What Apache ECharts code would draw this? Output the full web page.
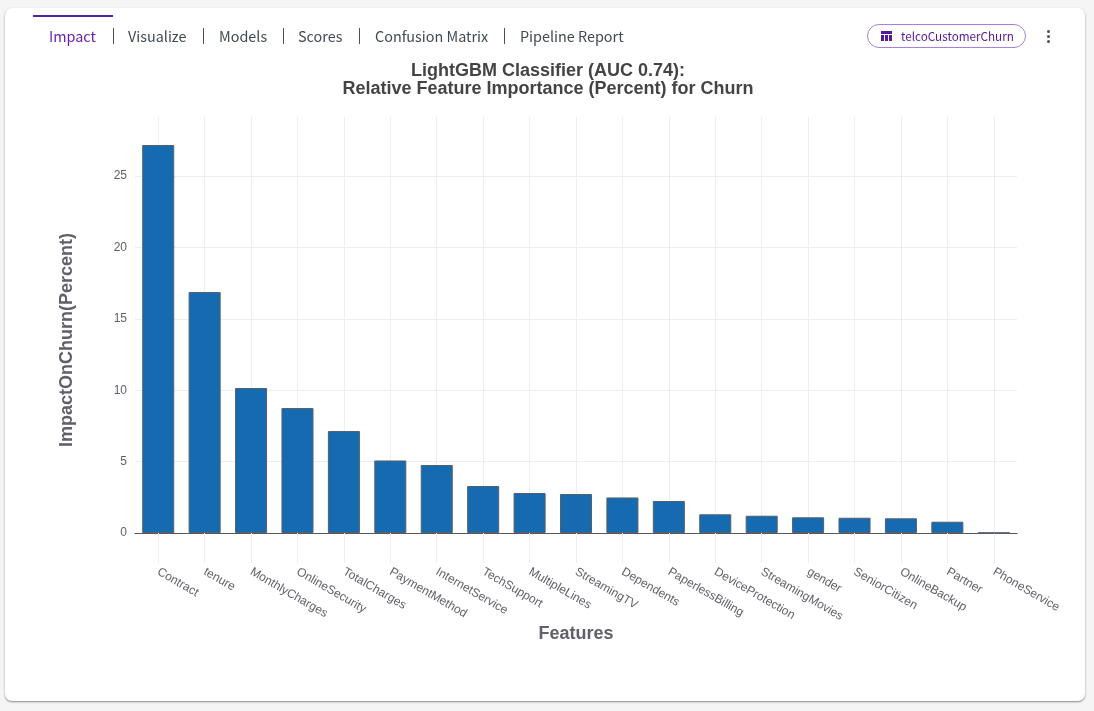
<!DOCTYPE html>
<html>
<head>
<meta charset="utf-8">
<title>Impact</title>
<script src="https://cdn.jsdelivr.net/npm/echarts@6/dist/echarts.min.js"></script>
<style>
    html, body { margin: 0; padding: 0; width: 1094px; height: 711px; overflow: hidden; background: #f5f5f5; }
    .card {
        position: absolute; left: 5px; top: 8px; width: 1080px; height: 693px;
        background: #fff; border-radius: 7px; box-shadow: 0 1px 2px rgba(0, 0, 0, 0.45);
    }
    #chart { position: absolute; left: 0; top: 0; width: 1094px; height: 711px; }
    .tab-mark { position: absolute; left: 33px; top: 15px; width: 80px; height: 2px; background: #5b1ea6; }
    .tab, .sep, .chip, .dots { position: absolute; font-family: "Noto Sans CJK SC", sans-serif; }
    .tab { top: 26px; font-size: 14.4px; line-height: 20px; color: #414a54; white-space: nowrap; }
    .tab.active { color: #6a1fb0; }
    .sep { top: 28px; width: 1px; height: 16px; background: #4a4f57; }
    .chip {
        left: 867px; top: 24px; width: 157px; height: 22px; border: 1px solid #ab7fd6; border-radius: 12px;
        color: #55189c; font-size: 11.7px; line-height: 21px; white-space: nowrap;
    }
    .chip svg { position: absolute; left: 13px; top: 6px; }
    .chip span { position: absolute; left: 33px; top: 0; }
    .dots { left: 1047px; top: 30px; width: 4px; }
    .dots i { display: block; width: 3.4px; height: 3.4px; margin-bottom: 1.6px; border-radius: 50%; background: #4a4f57; }
</style>
</head>
<body>
<div class="card"></div>
<div id="chart"></div>
<div class="tab-mark"></div>
<div id="tabs"></div>
<div class="chip">
    <svg width="11" height="10" viewBox="0 0 11 10"><path fill="#55189c" d="M0 0h11v3H0zM0 4h3v6H0zM4 4h3v6H4zM8 4h3v6H8z"/></svg>
    <span>telcoCustomerChurn</span>
</div>
<div class="dots"><i></i><i></i><i></i></div>
<script>
// 数据
const tabNames = ['Impact', 'Visualize', 'Models', 'Scores', 'Confusion Matrix', 'Pipeline Report'];
const tabLefts = [49, 128, 219, 298, 375, 520];
const sepLefts = [113, 203, 283, 359, 504];

const features = ['Contract', 'tenure', 'MonthlyCharges', 'OnlineSecurity', 'TotalCharges', 'PaymentMethod',
    'InternetService', 'TechSupport', 'MultipleLines', 'StreamingTV', 'Dependents', 'PaperlessBilling',
    'DeviceProtection', 'StreamingMovies', 'gender', 'SeniorCitizen', 'OnlineBackup', 'Partner', 'PhoneService'];
const impact = [27.17, 16.88, 10.15, 8.75, 7.14, 5.08, 4.76, 3.29, 2.8, 2.73, 2.49, 2.24,
    1.31, 1.21, 1.1, 1.07, 1.03, 0.79, 0.02];

// 顶部标签栏
const tabsEl = document.getElementById('tabs');
tabNames.forEach((name, i) => {
    const div = document.createElement('div');
    div.className = i === 0 ? 'tab active' : 'tab';
    div.style.left = tabLefts[i] + 'px';
    div.innerText = name;
    tabsEl.appendChild(div);
});
sepLefts.forEach(left => {
    const div = document.createElement('div');
    div.className = 'sep';
    div.style.left = left + 'px';
    tabsEl.appendChild(div);
});

const labelFont = '"Liberation Sans", Arial, sans-serif';
const gridColor = '#eeeeee';

const chart = echarts.init(document.getElementById('chart'), null, { renderer: 'canvas' });
chart.setOption({
    animation: false,
    textStyle: { fontFamily: labelFont },
    title: {
        text: 'LightGBM Classifier (AUC 0.74):\nRelative Feature Importance (Percent) for Churn',
        left: 543,
        top: 57,
        textAlign: 'center',
        textStyle: { fontFamily: labelFont, fontSize: 18, fontWeight: 'bold', color: '#444444', lineHeight: 18 }
    },
    grid: { left: 135, top: 117, width: 882, height: 416 },
    xAxis: {
        type: 'category',
        data: features,
        name: 'Features',
        nameLocation: 'middle',
        nameGap: 92,
        nameMoveOverlap: false,
        nameTextStyle: { fontFamily: labelFont, fontSize: 18, fontWeight: 'bold', color: '#5f6069' },
        axisLine: { show: true, lineStyle: { color: '#55585f', width: 1 } },
        axisTick: { show: true, alignWithLabel: true, length: 30, lineStyle: { color: gridColor } },
        axisLabel: { interval: 0, rotate: -30, margin: 38, fontSize: 12, color: '#5f6069', fontFamily: labelFont },
        splitLine: { show: true, alignWithLabel: true, lineStyle: { color: gridColor } }
    },
    yAxis: {
        type: 'value',
        min: 0,
        max: 29.13,
        interval: 5,
        name: 'ImpactOnChurn(Percent)',
        nameLocation: 'middle',
        nameGap: 59,
        nameTextStyle: { fontFamily: labelFont, fontSize: 18, fontWeight: 'bold', color: '#5f6069', padding: [0, 0, 0, -30] },
        axisLine: { show: false },
        axisTick: { show: false },
        axisLabel: { margin: 8, fontSize: 12, color: '#5f6069', fontFamily: labelFont, showMaxLabel: false, padding: [2, 0, 0, 0] },
        splitLine: { show: true, showMaxLine: false, lineStyle: { color: gridColor } }
    },
    series: [{
        type: 'bar',
        data: impact,
        barWidth: '69%',
        itemStyle: { color: '#166bb0', borderColor: '#55606e', borderWidth: 1 }
    }]
});
window.addEventListener('resize', () => chart.resize());
</script>
</body>
</html>
